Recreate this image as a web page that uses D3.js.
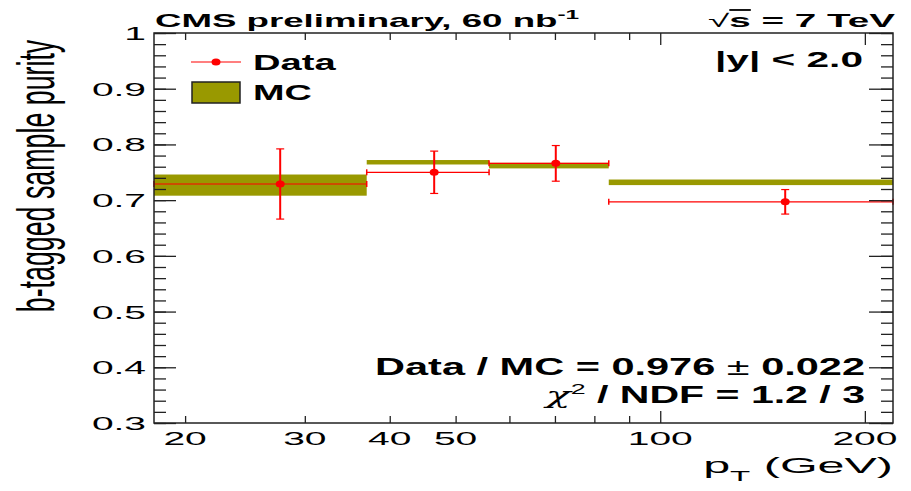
<!DOCTYPE html>
<html>
<head>
<meta charset="utf-8">
<script src="https://cdn.jsdelivr.net/npm/d3@7"></script>
<style>
  body { margin: 0; background: #fff; }
  text { font-family: "Liberation Sans", Arial, Helvetica, sans-serif; }
</style>
</head>
<body>
<div id="chart"></div>
<script>
// bins in pT (GeV) and measured purity
const binEdges = [18, 37, 56, 84, 220];
const dataPt = [27.6, 46.5, 70.2, 152.7];
const dataVal = [0.729, 0.750, 0.766, 0.697];
const dataErr = [0.063, 0.038, 0.032, 0.022];
const mcVal = [0.727, 0.768, 0.762, 0.732];
const mcErr = [0.019, 0.004, 0.005, 0.005];

const xMinorTicks = [20, 30, 40, 50, 60, 70, 80, 90];
const xMajorTicks = [100, 200];
const xTickLabels = [20, 30, 40, 50, 100, 200];
const yMajorTicks = [0.3, 0.4, 0.5, 0.6, 0.7, 0.8, 0.9, 1.0];
const yMinorTicks = d3.range(0.3, 1.0001, 0.02).map(d => +d.toFixed(2));

const W = 911, H = 491;
const margin = {top: 33, right: 18, bottom: 68, left: 154};
const red = '#ff0000', olive = '#999900';

const svg = d3.select('#chart').append('svg')
    .attr('width', W)
    .attr('height', H);

const x = d3.scaleLog()
    .domain([binEdges[0], binEdges[binEdges.length - 1]])
    .range([margin.left, W - margin.right]);
const y = d3.scaleLinear()
    .domain([0.3, 1])
    .range([H - margin.bottom, margin.top]);

// stretch text horizontally so it covers the given width
function fit(t, width) {
    const w = t.node().getBBox().width;
    return width / w;
}

// MC bands
svg.append('g').selectAll('rect')
    .data(mcVal)
    .join('rect')
    .attr('x', (d, i) => x(binEdges[i]))
    .attr('width', (d, i) => x(binEdges[i + 1]) - x(binEdges[i]))
    .attr('y', (d, i) => y(d + mcErr[i]))
    .attr('height', (d, i) => y(d - mcErr[i]) - y(d + mcErr[i]))
    .attr('fill', olive);

// data points with error bars
const pts = svg.append('g');
dataVal.forEach((v, i) => {
    const x0 = x(binEdges[i]), x1 = x(binEdges[i + 1]), cx = x(dataPt[i]);
    const yc = y(v), yt = y(v + dataErr[i]), yb = y(v - dataErr[i]);
    pts.append('line').attr('x1', x0).attr('x2', x1).attr('y1', yc).attr('y2', yc)
        .attr('stroke', red).attr('stroke-width', 1.2);
    [x0, x1].forEach(xx => pts.append('line').attr('x1', xx).attr('x2', xx)
        .attr('y1', yc - 3).attr('y2', yc + 3).attr('stroke', red).attr('stroke-width', 1.5));
    pts.append('line').attr('x1', cx).attr('x2', cx).attr('y1', yt).attr('y2', yb)
        .attr('stroke', red).attr('stroke-width', 2);
    [yt, yb].forEach(yy => pts.append('line').attr('x1', cx - 4).attr('x2', cx + 4)
        .attr('y1', yy).attr('y2', yy).attr('stroke', red).attr('stroke-width', 1.2));
    pts.append('ellipse').attr('cx', cx).attr('cy', yc).attr('rx', 4.5).attr('ry', 3.5)
        .attr('fill', red);
});

// ticks (all pointing inwards)
const axisColor = '#222';
function ticks(axis, transform) {
    const g = svg.append('g').attr('transform', transform).call(axis);
    g.select('.domain').remove();
    g.selectAll('line').attr('stroke', axisColor).attr('stroke-width', 1.3);
    g.selectAll('text').remove();
}
const bottomY = H - margin.bottom, rightX = W - margin.right;
ticks(d3.axisBottom(x).tickValues(xMinorTicks).tickSize(-7), `translate(0,${bottomY})`);
ticks(d3.axisBottom(x).tickValues(xMajorTicks).tickSize(-12), `translate(0,${bottomY})`);
ticks(d3.axisTop(x).tickValues(xMinorTicks).tickSize(-7), `translate(0,${margin.top})`);
ticks(d3.axisTop(x).tickValues(xMajorTicks).tickSize(-12), `translate(0,${margin.top})`);
ticks(d3.axisLeft(y).tickValues(yMinorTicks).tickSize(-12), `translate(${margin.left},0)`);
ticks(d3.axisLeft(y).tickValues(yMajorTicks).tickSize(-22), `translate(${margin.left},0)`);
ticks(d3.axisRight(y).tickValues(yMinorTicks).tickSize(-12), `translate(${rightX},0)`);
ticks(d3.axisRight(y).tickValues(yMajorTicks).tickSize(-24), `translate(${rightX},0)`);

svg.append('rect')
    .attr('x', margin.left).attr('y', margin.top)
    .attr('width', rightX - margin.left).attr('height', bottomY - margin.top)
    .attr('fill', 'none').attr('stroke', axisColor).attr('stroke-width', 1.5);

// tick labels
const labelSX = 2.05;
svg.append('g').selectAll('text')
    .data(xTickLabels)
    .join('text')
    .attr('text-anchor', 'middle')
    .attr('font-size', 19)
    .attr('transform', d => `translate(${x(d)},${bottomY + 22}) scale(${labelSX},1)`)
    .text(d => d);
svg.append('g').selectAll('text')
    .data(yMajorTicks)
    .join('text')
    .attr('text-anchor', 'end')
    .attr('font-size', 19)
    .attr('transform', d => `translate(146,${y(d) + 7}) scale(${labelSX},1)`)
    .text(d => d === 1 ? '1' : d.toFixed(1));

// axis titles
const yTitle = svg.append('text')
    .attr('text-anchor', 'middle')
    .attr('font-size', 26.8)
    .text('b-tagged sample purity');
yTitle.attr('transform', `translate(54,176) scale(1.9,1) rotate(-90)`);

const xTitle = svg.append('text').attr('text-anchor', 'end').attr('font-size', 22);
xTitle.append('tspan').text('p');
xTitle.append('tspan').attr('font-size', 15).attr('dy', 8).text('T');
xTitle.append('tspan').attr('dy', -8).text(' (GeV)');
xTitle.attr('transform', `translate(893,473) scale(${fit(xTitle, 190)},1)`);

// header texts
const cms = svg.append('text').attr('font-weight', 'bold').attr('font-size', 18);
cms.append('tspan').text('CMS preliminary, 60 nb');
cms.append('tspan').attr('font-size', 12).attr('dy', -8).text('-1');
cms.attr('transform', `translate(155,27) scale(${fit(cms, 425)},1)`);

const sq = svg.append('text').attr('text-anchor', 'end').attr('font-weight', 'bold').attr('font-size', 18);
sq.append('tspan').attr('font-weight', 'normal').text('√');
sq.append('tspan').style('text-decoration', 'overline').text('s');
sq.append('tspan').text(' = 7 TeV');
sq.attr('transform', `translate(895,27) scale(${fit(sq, 187)},1)`);

const rap = svg.append('text').attr('font-weight', 'bold').attr('font-size', 22).text('|y| < 2.0');
rap.attr('transform', `translate(715,67) scale(${fit(rap, 148)},1)`);

// legend
svg.append('line').attr('x1', 191).attr('x2', 241).attr('y1', 62).attr('y2', 62)
    .attr('stroke', red).attr('stroke-width', 1.2);
svg.append('ellipse').attr('cx', 216).attr('cy', 62).attr('rx', 4.5).attr('ry', 3.5).attr('fill', red);
svg.append('rect').attr('x', 192).attr('y', 82).attr('width', 48).attr('height', 21)
    .attr('fill', olive).attr('stroke', '#222').attr('stroke-width', 1.5);
const lgData = svg.append('text').attr('font-weight', 'bold').attr('font-size', 22).text('Data');
lgData.attr('transform', `translate(253,70) scale(${fit(lgData, 84)},1)`);
const lgMC = svg.append('text').attr('font-weight', 'bold').attr('font-size', 22).text('MC');
lgMC.attr('transform', `translate(253,100) scale(${fit(lgMC, 59)},1)`);

// fit results
const ratio = svg.append('text').attr('text-anchor', 'end').attr('font-weight', 'bold').attr('font-size', 23);
ratio.append('tspan').text('Data / MC = 0.976 ');
ratio.append('tspan').attr('font-weight', 'normal').text('±');
ratio.append('tspan').text(' 0.022');
ratio.attr('transform', `translate(865,375) scale(${fit(ratio, 490)},1)`);

const chi = svg.append('text').attr('text-anchor', 'end').attr('font-weight', 'bold').attr('font-size', 23);
chi.append('tspan').attr('font-weight', 'normal').attr('font-family', 'DejaVu Serif').attr('font-style', 'italic').text('χ');
chi.append('tspan').attr('font-weight', 'normal').attr('font-size', 15).attr('dy', -9).text('2');
chi.append('tspan').attr('dy', 9).text(' / NDF = 1.2 / 3');
chi.attr('transform', `translate(865,403) scale(${fit(chi, 323)},1)`);
</script>
</body>
</html>
